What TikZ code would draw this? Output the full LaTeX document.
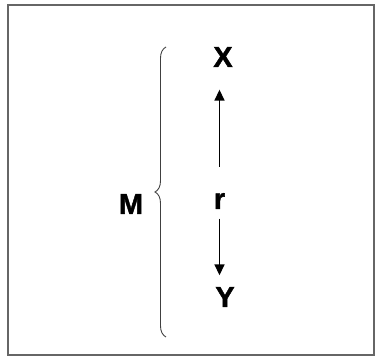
\documentclass[tikz,border=0pt]{standalone}
\usepackage{fontspec}
\setmainfont{Liberation Sans}
\newfontfamily\heavyfont[BoldFeatures={FakeBold=1.5}]{Liberation Sans}
\usetikzlibrary{arrows.meta,decorations.pathreplacing}
\begin{document}
\begin{tikzpicture}[x=1pt,y=1pt,
  lbl/.style={font=\heavyfont\fontsize{29}{32}\selectfont\bfseries, inner sep=0pt, text=black},
  conn/.style={line width=1.5pt, -{Triangle[length=11pt,width=10pt]}},
  bracestyle/.style={draw=black!75, line width=0.9pt, decorate, decoration={brace, amplitude=11pt}}]
\useasboundingbox (0,0) rectangle (376,363);
\draw[draw=black!60, line width=2pt] (8,8) rectangle (374,358);
\node[lbl] (X) at (223,306) {X};
\node[lbl] (r) at (219.5,162) {r};
\node[lbl] (Y) at (225,66) {Y};
\node[lbl] (M) at (131,159) {M};
\coordinate (bb) at (166,26);
\coordinate (bt) at (166,316);
\draw[bracestyle] (bb) -- (bt);
\draw[conn, shorten <=26pt, shorten >=22.5pt] (r.north) -- (r.north |- X.south);
\draw[conn, shorten <=9.5pt, shorten >=11.5pt] (r.south) -- (r.south |- Y.north);
\end{tikzpicture}
\end{document}
